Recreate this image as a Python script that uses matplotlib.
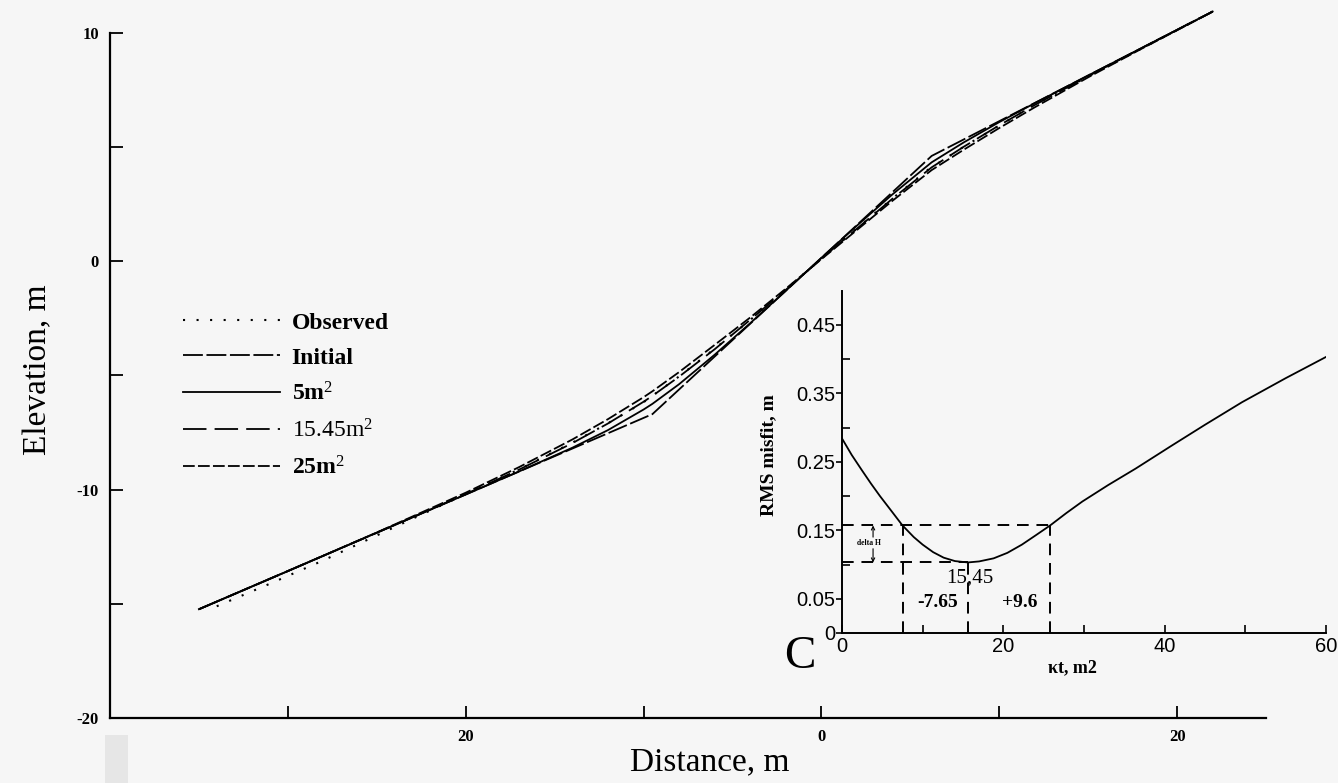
import matplotlib
matplotlib.use("Agg")
import matplotlib.pyplot as plt
from matplotlib.patches import Rectangle

plt.rcParams['font.family'] = 'Liberation Serif'
plt.rcParams['mathtext.fontset'] = 'custom'
plt.rcParams['mathtext.rm'] = 'Liberation Serif'
plt.rcParams['mathtext.it'] = 'Liberation Serif:italic'
plt.rcParams['mathtext.bf'] = 'Liberation Serif:bold'

BG = '#f6f6f6'

# scarp profiles (distance m, elevation m)
dist = [-35, -30, -25, -20, -17, -14, -12, -10, -9.5, -8, -6, -4, -2,
        0, 2, 4, 6.2, 8, 10, 12, 15, 18, 22]
elev_5 = [-15.24, -13.57, -11.89, -10.22, -9.21, -8.17, -7.40, -6.50, -6.25,
          -5.39, -4.10, -2.72, -1.30, 0.14, 1.55, 2.92, 4.32, 5.19, 6.08,
          6.91, 8.12, 9.32, 10.92]
elev_1545 = [-15.24, -13.57, -11.89, -10.20, -9.13, -7.97, -7.11, -6.16, -5.90,
             -5.06, -3.86, -2.57, -1.26, 0.10, 1.42, 2.73, 4.10, 5.00, 5.94,
             6.83, 8.09, 9.31, 10.92]
elev_25 = [-15.24, -13.57, -11.88, -10.14, -9.02, -7.81, -6.92, -5.96, -5.70,
           -4.86, -3.67, -2.47, -1.21, 0.08, 1.36, 2.64, 3.98, 4.87, 5.82,
           6.73, 8.04, 9.29, 10.91]

init_dist = [-35, -9.5, 6.2, 22]
init_elev = [-15.24, -6.70, 4.60, 10.92]

obs_dist = [-34, -31, -28, -25, -22, -20, -17, -14, -12, -10, -8, -6, -4, -2,
            0, 2, 4, 6, 8, 10, 12, 15, 18, 22]
obs_elev = [-15.11, -14.12, -13.10, -12.01, -10.92, -10.20, -9.12, -7.95, -7.10,
            -6.18, -5.05, -3.84, -2.58, -1.24, 0.10, 1.43, 2.74, 4.00, 5.00,
            5.93, 6.84, 8.08, 9.30, 10.92]

# RMS misfit vs kt (inset)
kt = [0, 1.2, 2.5, 3.6, 4.7, 6.2, 7.5, 8.9, 10.0, 11.3, 12.6, 14.0, 15.6,
      17.0, 18.8, 20.5, 22.3, 24.0, 25.8, 27.8, 29.8, 33.0, 36.4, 40.8, 45.0,
      49.6, 55.0, 60]
rms = [0.284, 0.260, 0.237, 0.218, 0.200, 0.177, 0.157, 0.140, 0.129, 0.118,
       0.110, 0.105, 0.103, 0.1045, 0.109, 0.117, 0.129, 0.1425, 0.157, 0.175,
       0.192, 0.216, 0.240, 0.273, 0.304, 0.337, 0.372, 0.403]
kt_best = 15.6
kt_lo = 7.5
kt_hi = 25.8
rms_min = 0.103
rms_cut = 0.157

fig = plt.figure(figsize=(13.38, 7.83), dpi=100, facecolor=BG)
fig.patches.append(Rectangle((105 / 1338, 0), 23 / 1338, 48 / 783,
                             transform=fig.transFigure, facecolor='#e6e6e6',
                             edgecolor='none', zorder=0))

# ---- main profile axes
ax = fig.add_axes([110 / 1338, 1 - 718 / 783, 1156 / 1338, 708.3 / 783])
ax.set_facecolor('none')
lw = 1.3
ax.plot(obs_dist, obs_elev, color='black', lw=1.5, linestyle=(0, (1, 5.5)),
        label='Observed')
ax.plot(init_dist, init_elev, color='black', lw=lw, linestyle=(0, (11, 2)),
        label='Initial')
ax.plot(dist, elev_5, color='black', lw=lw, label='5m$^2$')
ax.plot(dist, elev_1545, color='black', lw=lw, linestyle=(0, (13, 4.5)),
        label='15.45m$^2$')
ax.plot(dist, elev_25, color='black', lw=lw, linestyle=(0, (6.5, 1.8)),
        label='25m$^2$')

ax.set_xlim(-40, 25)
ax.set_ylim(-20, 11)
for s in ['top', 'right']:
    ax.spines[s].set_visible(False)
for s in ['left', 'bottom']:
    ax.spines[s].set_linewidth(1.6)
ax.spines['left'].set_bounds(-20, 10)

ax.set_xticks([-30, -20, -10, 0, 10, 20])
ax.set_xticklabels(['', '20', '', '0', '', '20'])
ax.set_yticks([-20, -15, -10, -5, 0, 5, 10])
ax.set_yticklabels(['-20', '', '-10', '', '0', '', '10'])
ax.tick_params(direction='in', length=9, width=1.3, pad=8)
for t in ax.get_xticklabels() + ax.get_yticklabels():
    t.set_fontweight('bold')
    t.set_fontsize(12)

fig.text(38 / 1338, 1 - 370 / 783, 'Elevation, m', rotation=90,
         ha='center', va='center', fontsize=24)
fig.text(710 / 1338, 1 - 762 / 783, 'Distance, m', ha='center',
         va='center', fontsize=24)

leg = ax.legend(loc='upper left', bbox_to_anchor=(183 / 1338, 1 - 312 / 783),
                bbox_transform=fig.transFigure, frameon=False, fontsize=17,
                handlelength=4.1, handletextpad=0.5, labelspacing=0.58,
                borderpad=0, borderaxespad=0)
for t, w in zip(leg.get_texts(), ['bold', 'bold', 'bold', 'normal', 'bold']):
    t.set_fontweight(w)

# ---- inset: RMS misfit
ax2 = fig.add_axes([842 / 1338, 1 - 633 / 783, 484 / 1338, 342.5 / 783])
ax2.set_facecolor('none')
ax2.plot(kt, rms, color='black', lw=1.3)
dash = dict(color='black', lw=1.4, linestyle=(0, (6, 4)))
ax2.plot([0, kt_hi], [rms_cut, rms_cut], **dash)
ax2.plot([0, kt_best], [rms_min, rms_min], **dash)
ax2.plot([kt_lo, kt_lo], [0, rms_cut], **dash)
ax2.plot([kt_hi, kt_hi], [0, rms_cut], **dash)
ax2.plot([kt_best, kt_best], [0, rms_min], **dash)

ax2.set_xlim(0, 60)
ax2.set_ylim(0, 0.5)
for s in ['top', 'right']:
    ax2.spines[s].set_visible(False)
for s in ['left', 'bottom']:
    ax2.spines[s].set_linewidth(1.4)

ax2.set_xticks([0, 10, 20, 30, 40, 50, 60])
ax2.set_xticklabels(['0', '', '20', '', '40', '', '60'])
ax2.set_yticks([0, 0.05, 0.15, 0.25, 0.35, 0.45])
ax2.set_yticklabels(['0', '0.05', '0.15', '0.25', '0.35', '0.45'])
ax2.set_yticks([0.1, 0.2, 0.3, 0.4], minor=True)
ax2.tick_params(axis='x', direction='in', length=6, width=1.2, pad=3)
ax2.tick_params(axis='y', which='major', direction='out', length=4,
                width=1.2, pad=1)
ax2.tick_params(axis='y', which='minor', direction='in', length=6, width=1.2)
for t in ax2.get_xticklabels() + ax2.get_yticklabels():
    t.set_fontfamily('Liberation Sans')
    t.set_fontsize(14.5)

ax2.text(15.9, 0.080, '15,45', ha='center', va='center', fontsize=15)
ax2.text(11.8, 0.044, '-7.65', ha='center', va='center', fontsize=14,
         fontweight='bold')
ax2.text(22.05, 0.044, '+9.6', ha='center', va='center', fontsize=14,
         fontweight='bold')
ax2.text(3.4, 0.131, 'delta H', ha='center', va='center', fontsize=5.5,
         fontweight='bold')
arrow = dict(arrowstyle='->', lw=0.8, color='black', shrinkA=0, shrinkB=0,
             mutation_scale=6)
ax2.annotate('', xy=(3.85, rms_cut), xytext=(3.85, 0.140), arrowprops=arrow)
ax2.annotate('', xy=(3.85, rms_min), xytext=(3.85, 0.123), arrowprops=arrow)

fig.text(769 / 1338, 1 - 455 / 783, 'RMS misfit, m', rotation=90,
         ha='center', va='center', fontsize=14, fontweight='bold')
fig.text(1072 / 1338, 1 - 668 / 783, 'κt, m2', ha='center', va='center',
         fontsize=13, fontweight='bold')
fig.text(800 / 1338, 1 - 657 / 783, 'C', ha='center', va='center',
         fontsize=34)

fig.savefig('out.png', dpi=100, facecolor=BG)
